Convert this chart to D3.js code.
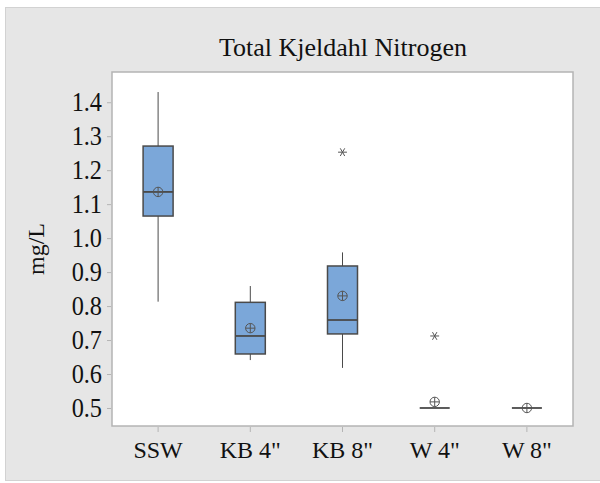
<!DOCTYPE html>
<html>
<head>
<meta charset="utf-8">
<script src="https://cdn.jsdelivr.net/npm/d3@7"></script>
<style>
  html, body { margin: 0; padding: 0; background: #ffffff; }
  svg { display: block; }
  svg text { font-family: "Liberation Serif", "Times New Roman", Times, serif !important; fill: #111; }
</style>
</head>
<body>
<svg id="chart" width="600" height="483"></svg>
<script>
// Total Kjeldahl Nitrogen box plot data (mg/L)
const categories   = ["SSW", "KB 4\"", "KB 8\"", "W 4\"", "W 8\""];
const whiskerLow   = [0.813, 0.641, 0.618, 0.500, 0.500];
const q1           = [1.065, 0.659, 0.718, 0.500, 0.500];
const medians      = [1.136, 0.712, 0.759, 0.500, 0.500];
const q3           = [1.271, 0.811, 0.918, 0.500, 0.500];
const whiskerHigh  = [1.430, 0.859, 0.958, 0.500, 0.500];
const means        = [1.136, 0.735, 0.830, 0.518, 0.500];
const outliers     = [[], [], [1.253], [0.712], []];
const yTicks       = [0.5, 0.6, 0.7, 0.8, 0.9, 1.0, 1.1, 1.2, 1.3, 1.4];

const svg = d3.select("#chart");

// page background panel
svg.append("rect").attr("x", 0).attr("y", 0).attr("width", 600).attr("height", 483).attr("fill", "#ffffff");
svg.append("rect")
  .attr("x", 5.5).attr("y", 7.5).attr("width", 600).attr("height", 473)
  .attr("fill", "#e6e6e6").attr("stroke", "#d2d2d2").attr("stroke-width", 1);

const frame = { left: 112, top: 72, right: 573, bottom: 426 };

const x = d3.scaleBand().domain(categories).range([frame.left, frame.right]).padding(0);
const y = d3.scaleLinear().domain([0.447, 1.489]).range([frame.bottom, frame.top]);

// plot area
svg.append("rect")
  .attr("x", frame.left).attr("y", frame.top)
  .attr("width", frame.right - frame.left).attr("height", frame.bottom - frame.top)
  .attr("fill", "#ffffff").attr("stroke", "#b4b4b4").attr("stroke-width", 1.5);

// axes
const yAxis = svg.append("g")
  .attr("transform", `translate(${frame.left - 1},0)`)
  .call(d3.axisLeft(y).tickValues(yTicks).tickFormat(d3.format(".1f")).tickSizeOuter(0).tickSizeInner(4).tickPadding(5));
yAxis.attr("font-family", null).attr("font-size", null);
yAxis.select(".domain").remove();
yAxis.selectAll(".tick line").attr("stroke", "#b4b4b4");
// slightly condensed tall numerals
yAxis.selectAll(".tick text")
  .style("font-size", "27px")
  .attr("x", -9 / 0.9)
  .attr("transform", "scale(0.9,1)")
  .attr("fill", "#111");

const xAxis = svg.append("g")
  .attr("transform", `translate(0,${frame.bottom + 1})`)
  .call(d3.axisBottom(x).tickSizeOuter(0).tickSizeInner(5).tickPadding(9));
xAxis.attr("font-family", null).attr("font-size", null);
xAxis.select(".domain").remove();
xAxis.selectAll(".tick line").attr("stroke", "#b4b4b4");
xAxis.selectAll(".tick text").style("font-size", "24px").attr("fill", "#111");

// title
svg.append("text")
  .attr("x", (frame.left + frame.right) / 2 + 0.5).attr("y", 56)
  .attr("text-anchor", "middle")
  .style("font-size", "26px")
  .text("Total Kjeldahl Nitrogen");

// y-axis label
svg.append("text")
  .attr("transform", `translate(44,${(frame.top + frame.bottom) / 2}) rotate(-90)`)
  .attr("text-anchor", "middle")
  .style("font-size", "24px")
  .text("mg/L");

const boxW = 30;
const stroke = "#4a4a4a";
const fill = "#7ba7d9";

const groups = svg.append("g").selectAll("g")
  .data(categories.map((c, i) => ({
    c, lo: whiskerLow[i], q1: q1[i], med: medians[i], q3: q3[i], hi: whiskerHigh[i],
    mean: means[i], out: outliers[i]
  })))
  .join("g")
  .attr("transform", d => `translate(${x(d.c) + x.bandwidth() / 2},0)`);

// whiskers
groups.filter(d => d.hi > d.q3).append("line")
  .attr("x1", 0).attr("x2", 0).attr("y1", d => y(d.q3)).attr("y2", d => y(d.hi))
  .attr("stroke", stroke).attr("stroke-width", 1);
groups.filter(d => d.lo < d.q1).append("line")
  .attr("x1", 0).attr("x2", 0).attr("y1", d => y(d.q1)).attr("y2", d => y(d.lo))
  .attr("stroke", stroke).attr("stroke-width", 1);

// boxes
groups.filter(d => d.q3 > d.q1).append("rect")
  .attr("x", -boxW / 2).attr("width", boxW)
  .attr("y", d => y(d.q3)).attr("height", d => y(d.q1) - y(d.q3))
  .attr("fill", fill).attr("stroke", stroke).attr("stroke-width", 1.5);

// medians
groups.append("line")
  .attr("x1", -boxW / 2).attr("x2", boxW / 2)
  .attr("y1", d => y(d.med)).attr("y2", d => y(d.med))
  .attr("stroke", stroke).attr("stroke-width", 1.8);

// mean symbols (circle with cross)
const meanG = groups.append("g").attr("transform", d => `translate(0,${y(d.mean)})`);
meanG.append("circle").attr("r", 4.7).attr("fill", "none").attr("stroke", "#555").attr("stroke-width", 1);
meanG.append("line").attr("x1", -4.7).attr("x2", 4.7).attr("stroke", "#555").attr("stroke-width", 1);
meanG.append("line").attr("y1", -4.7).attr("y2", 4.7).attr("stroke", "#555").attr("stroke-width", 1);

// outliers (asterisks)
const star = d3.symbol().type(d3.symbolAsterisk).size(55);
groups.each(function(d) {
  d3.select(this).selectAll("path.out")
    .data(d.out)
    .join("path")
    .attr("class", "out")
    .attr("transform", v => `translate(0,${y(v)}) rotate(90)`)
    .attr("d", star)
    .attr("fill", "none").attr("stroke", "#555").attr("stroke-width", 1);
});
</script>
</body>
</html>
